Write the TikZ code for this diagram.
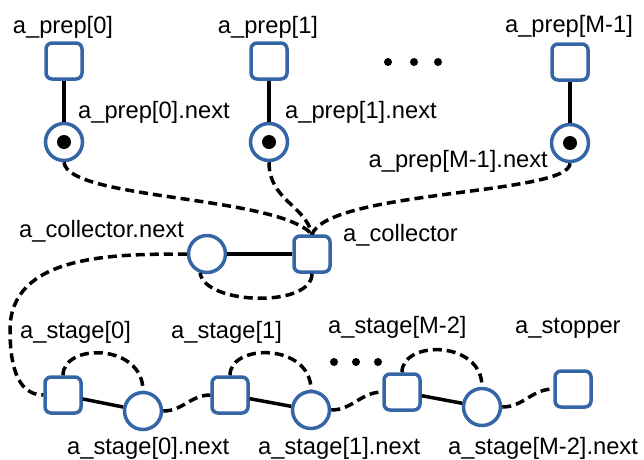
\documentclass[tikz,border=0pt]{standalone}
\usepackage{fontspec}
\setmainfont{Liberation Sans}
\definecolor{nodeblue}{HTML}{3465A4}
\begin{document}
\begin{tikzpicture}[x=1pt,y=-1pt,
  sq/.style={draw=nodeblue, line width=3.5pt, rounded corners=6pt, minimum size=36pt, inner sep=0pt, fill=white},
  cir/.style={draw=nodeblue, line width=3.5pt, circle, minimum size=37pt, inner sep=0pt, fill=white},
  inner/.style={circle, fill=black, minimum size=14pt, inner sep=0pt},
  dotn/.style={circle, fill=black, minimum size=8pt, inner sep=0pt},
  lbl/.style={font=\fontsize{23.7}{28}\selectfont, inner sep=0pt, text=black},
  solidc/.style={line width=3.5pt, black},
  dashc/.style={line width=3.5pt, black, dash pattern=on 9pt off 5pt}
]
\useasboundingbox (0,0) rectangle (644,459);

% connectors drawn first (behind nodes) using coordinates of nodes defined later -> define nodes first
\node[sq] (p0) at (64,61) {};
\node[cir] (p0n) at (64,142) {};
\node[sq] (p1) at (269,61) {};
\node[cir] (p1n) at (269,142) {};
\node[sq] (pM) at (570,62) {};
\node[cir] (pMn) at (570,143) {};
\node[inner] (p0d) at (p0n) {};
\node[inner] (p1d) at (p1n) {};
\node[inner] (pMd) at (pMn) {};

\node[sq] (col) at (312,254) {};
\node[cir] (coln) at (207,254) {};

\node[sq] (s0) at (63,395) {};
\node[cir] (s0n) at (143,411) {};
\node[sq] (s1) at (230,395) {};
\node[cir] (s1n) at (311,410) {};
\node[sq] (sM) at (402,392) {};
\node[cir] (sMn) at (482,407) {};
\node[sq] (stop) at (573,389) {};

% dots
\node[dotn] (d1) at (388,62) {};
\node[dotn] (d2) at (414,62) {};
\node[dotn] (d3) at (438,62) {};
\node[dotn] (d4) at (334,362) {};
\node[dotn] (d5) at (356,362) {};
\node[dotn] (d6) at (378,362) {};

% solid links
\draw[solidc] (p0) -- (p0n);
\draw[solidc] (p1) -- (p1n);
\draw[solidc] (pM) -- (pMn);
\draw[solidc] (coln) -- (col);
\draw[solidc] (s0) -- (s0n);
\draw[solidc] (s1) -- (s1n);
\draw[solidc] (sM) -- (sMn);

% dashed links
\draw[dashc] (p0n.south) .. controls (68,200) and (275,195) .. (col.north);
\draw[dashc] (p1n.south) .. controls (269,200) and (305,205) .. (col.north);
\draw[dashc] (pMn.south) .. controls (570,195) and (330,190) .. (col.north);
\draw[dashc] (col.south) .. controls (312,308) and (205,305) .. (coln.250);
\draw[dashc] (coln.west) to[out=180,in=90] (10,330) to[out=-90,in=180] (s0.west);
\draw[dashc] (s0.north) .. controls (63,343) and (143,343) .. (s0n.north);
\draw[dashc] (s1.north) .. controls (230,343) and (311,343) .. (s1n.north);
\draw[dashc] (sM.north) .. controls (402,340) and (482,340) .. (sMn.north);
\draw[dashc] (s0n.east) to[out=0,in=180] (s1.west);
\draw[dashc] (s1n.east) to[out=0,in=180] (sM.west);
\draw[dashc] (sMn.east) to[out=0,in=180] (stop.west);

% labels
\node[lbl, anchor=base] (lp0) at (63,33) {a\_prep[0]};
\node[lbl, anchor=base] (lp1) at (268,33) {a\_prep[1]};
\node[lbl, anchor=base] (lpM) at (569,32) {a\_prep[M-1]};
\node[lbl, anchor=base west] (lp0n) at (78,118) {a\_prep[0].next};
\node[lbl, anchor=base west] (lp1n) at (285,118) {a\_prep[1].next};
\node[lbl, anchor=base east] (lpMn) at (548,167) {a\_prep[M-1].next};
\node[lbl, anchor=base west] (lcn) at (19,237) {a\_collector.next};
\node[lbl, anchor=base west] (lc) at (343,241) {a\_collector};
\node[lbl, anchor=base west] (ls0) at (20,338) {a\_stage[0]};
\node[lbl, anchor=base west] (ls1) at (171,338) {a\_stage[1]};
\node[lbl, anchor=base west] (lsM) at (328,333) {a\_stage[M-2]};
\node[lbl, anchor=base west] (lst) at (515,333) {a\_stopper};
\node[lbl, anchor=base west] (ls0n) at (67,454) {a\_stage[0].next};
\node[lbl, anchor=base west] (ls1n) at (258,454) {a\_stage[1].next};
\node[lbl, anchor=base west] (lsMn) at (448,454) {a\_stage[M-2].next};
\end{tikzpicture}
\end{document}
